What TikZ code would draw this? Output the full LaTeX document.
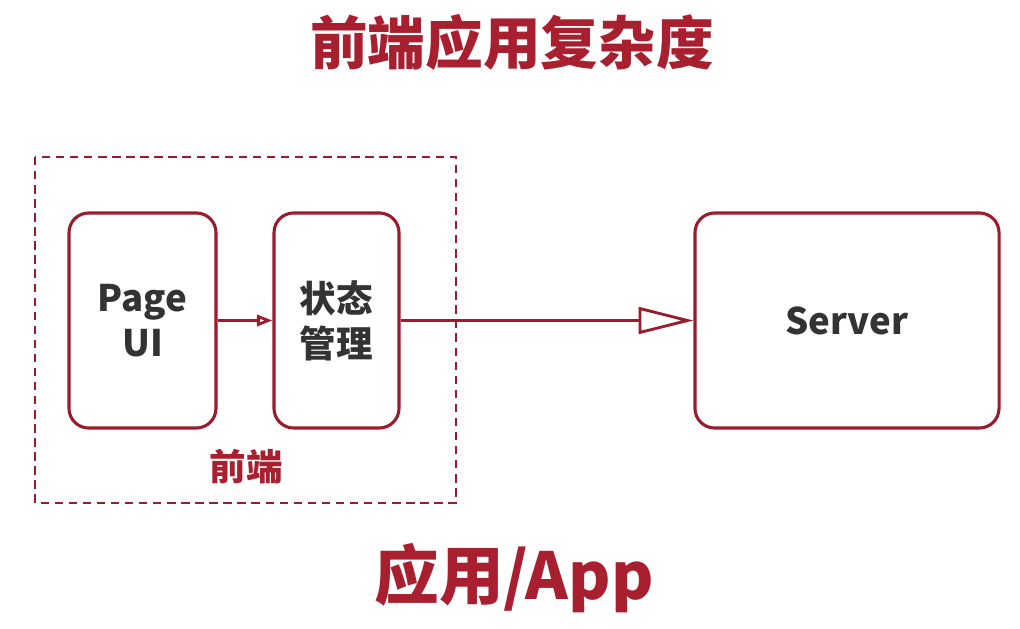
\documentclass[tikz,border=0pt]{standalone}
\usepackage{fontspec}
\setmainfont{Noto Sans CJK SC}
\usetikzlibrary{arrows.meta}
\definecolor{appred}{HTML}{A8202F}
\definecolor{boxred}{HTML}{9A1B2C}
\definecolor{textgray}{HTML}{333333}
\begin{document}
\begin{tikzpicture}[x=0.025cm,y=-0.025cm,
    part/.style={draw=boxred,line width=2.2pt,fill=white,rounded corners=14pt,inner sep=0pt},
    parttext/.style={text=textgray,font=\fontsize{26}{32}\selectfont\bfseries,align=center},
    link/.style={boxred,line width=2pt}]
  \useasboundingbox (0,0) rectangle (1020,629);
  \node[text=appred,font=\fontsize{41}{46}\selectfont\bfseries] (title) at (512,42) {前端应用复杂度};
  % frontend group
  \draw[boxred,line width=1.4pt,dash pattern=on 6pt off 4pt] (35,157) rectangle (456,503);
  \node[part,minimum width=147*0.7113pt,minimum height=215*0.7113pt] (page) at (142.5,320.5) {};
  \node[parttext] at (page) {Page\\UI};
  \node[part,minimum width=125*0.7113pt,minimum height=215*0.7113pt] (state) at (336.5,320.5) {};
  \node[parttext] at (state) {状态\\管理};
  \node[text=appred,font=\fontsize{26}{30}\selectfont\bfseries] (front) at (246,467) {前端};
  % server
  \node[part,minimum width=304*0.7113pt,minimum height=215*0.7113pt] (server) at (847,320.5) {};
  \node[parttext] at (server) {Server};
  \draw[link,-{Triangle[open,length=11pt,width=8pt]}] (page.east) -- (state.west);
  \draw[link,-{Triangle[open,length=39pt,width=19pt]}] (state.east) -- (server.west);
  \node[text=appred,font=\fontsize{46}{50}\selectfont\bfseries] (app) at (514,578) {应用/App};
\end{tikzpicture}
\end{document}
